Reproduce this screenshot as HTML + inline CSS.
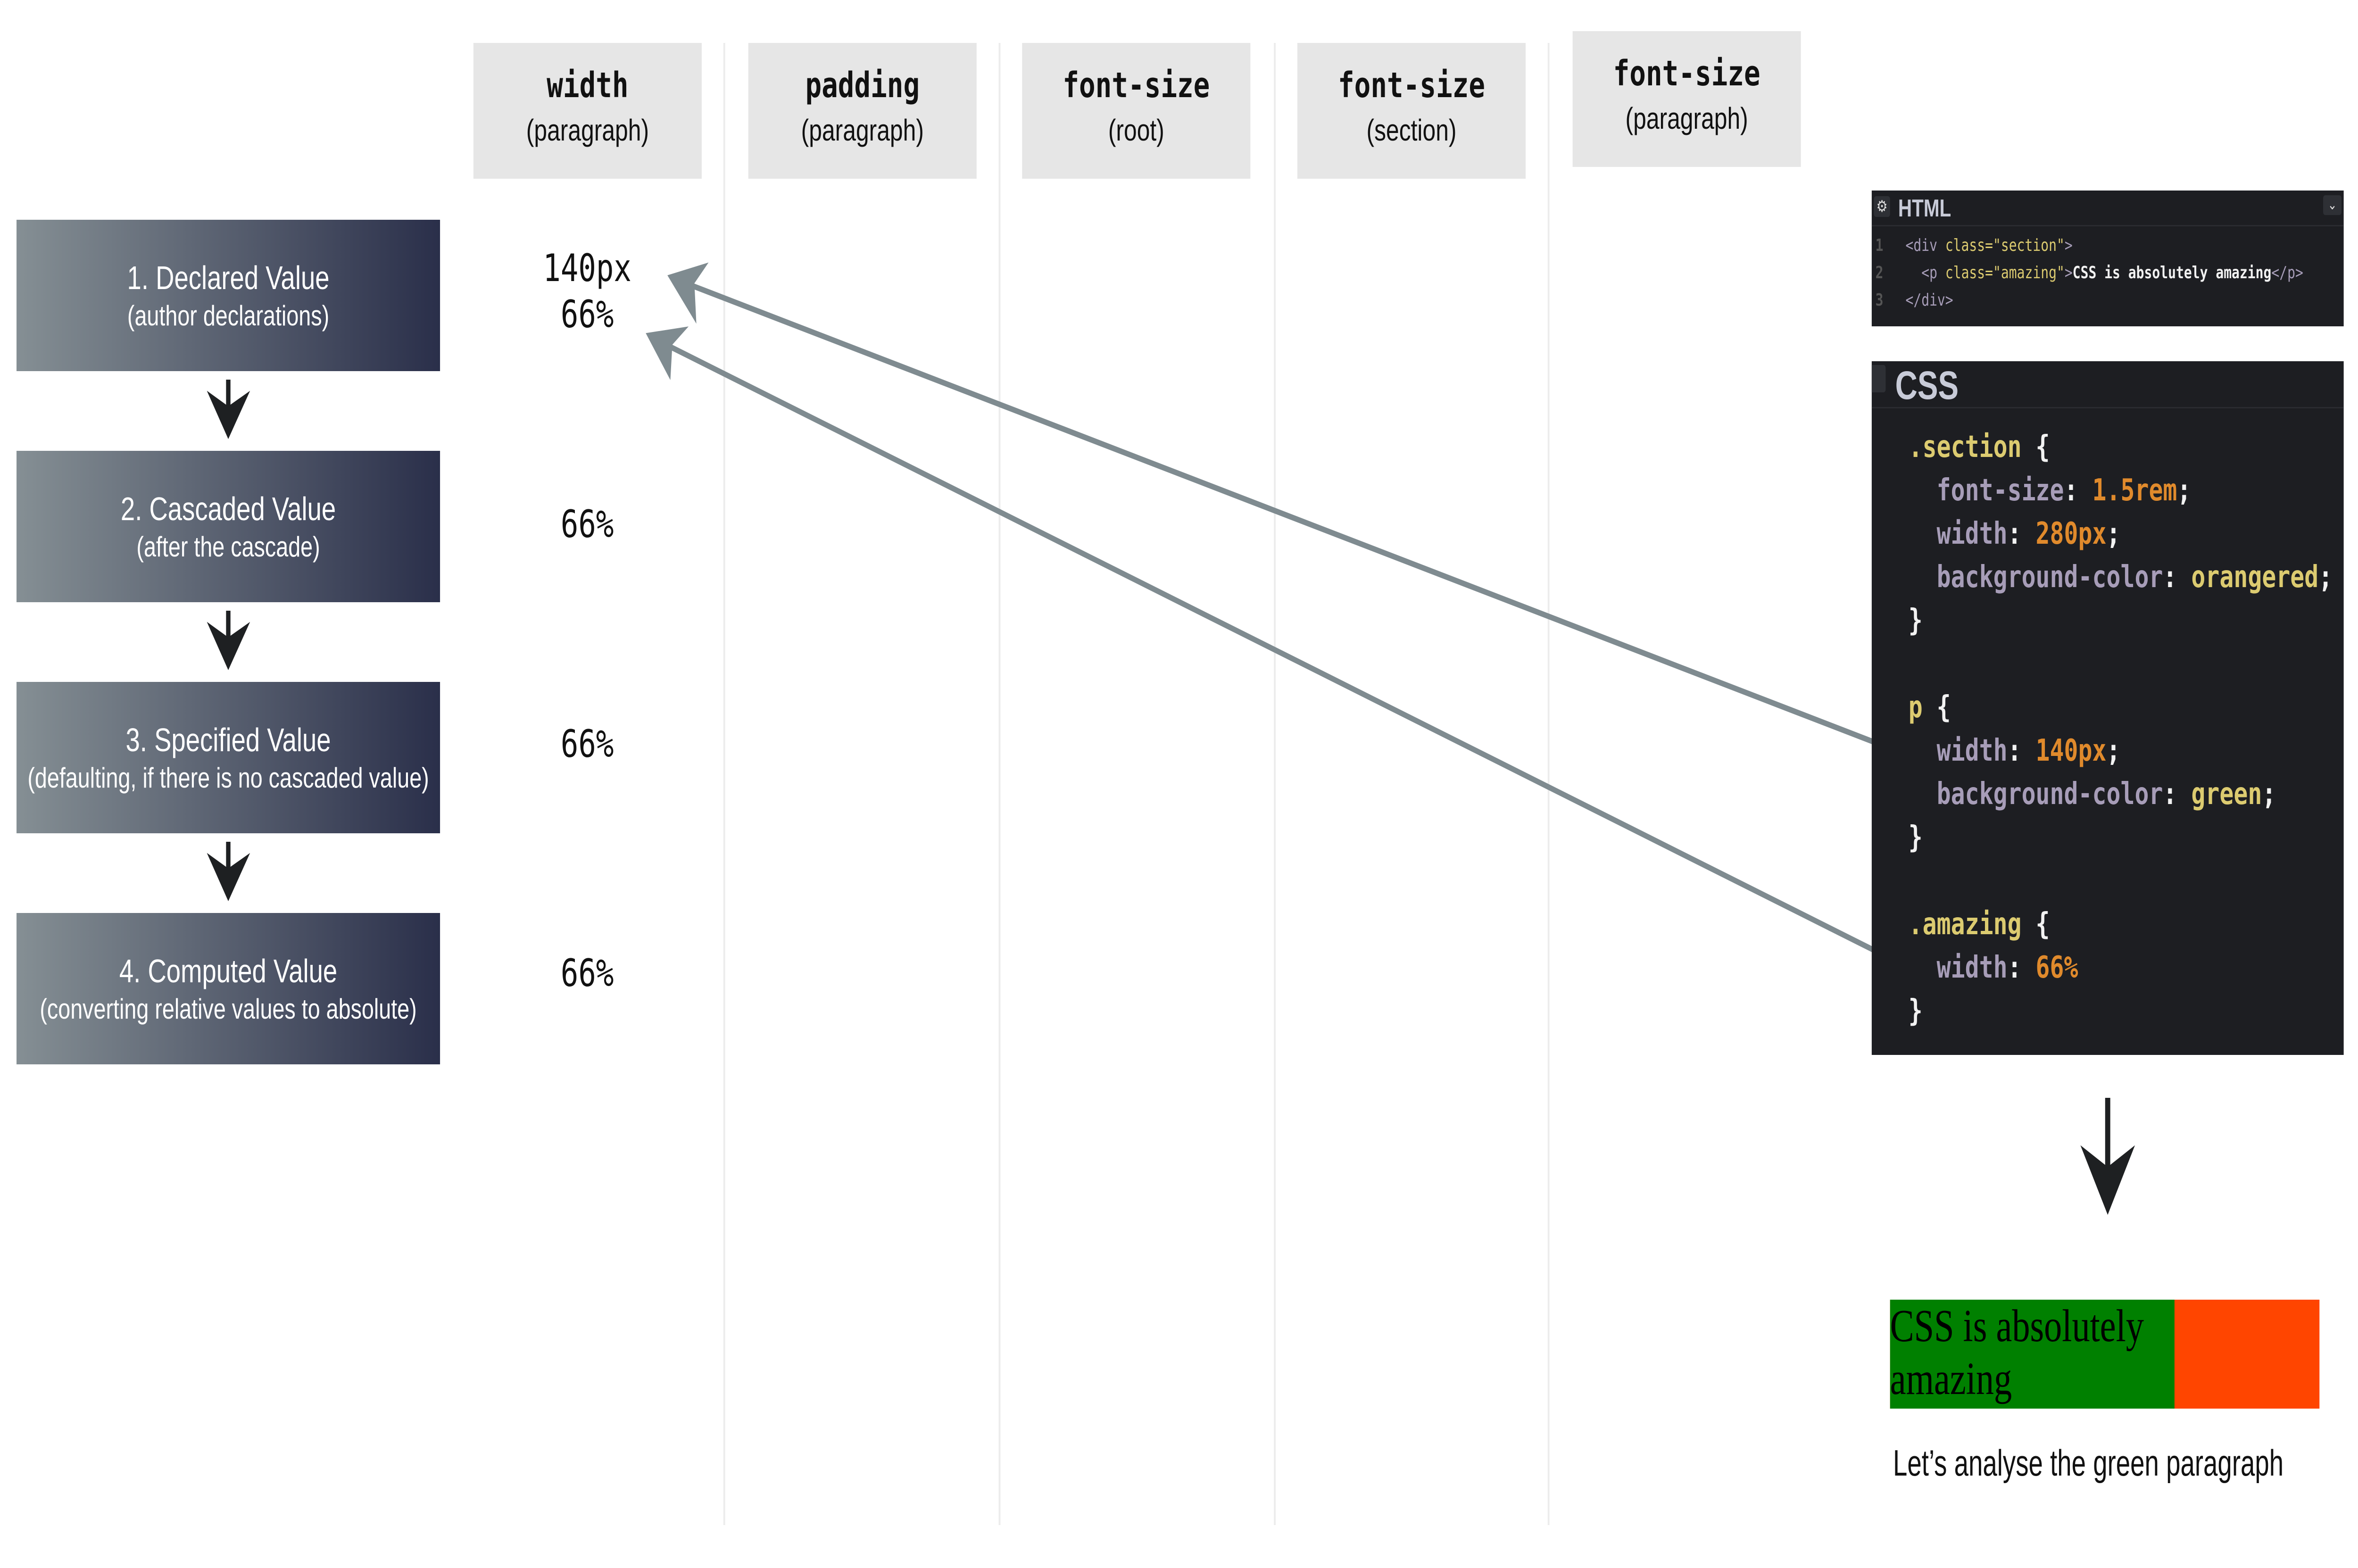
<!DOCTYPE html>
<html><head><meta charset="utf-8">
<style>
*{margin:0;padding:0;box-sizing:border-box}
html,body{width:100%;height:100%;overflow:hidden;background:#fff}
#root{position:absolute;left:0;top:0;width:6425px;height:3325px;background:#fff;overflow:hidden;transform-origin:0 0;font-family:"Liberation Sans",sans-serif}
.abs{position:absolute}
.hdr{position:absolute;background:#e6e6e6;width:622px;height:288px;text-align:center}
.hdr .t{font-family:"DejaVu Sans Mono","Liberation Mono",monospace;font-weight:bold;font-size:74px;margin-top:40px;line-height:100px;color:#111}
.hdr .s{font-family:"Liberation Sans Narrow","Liberation Sans",sans-serif;font-size:64px;line-height:90px;color:#111}
.sep{position:absolute;top:91px;width:5px;height:3143px;background:#ececec}
.step{position:absolute;left:45px;width:1154px;height:321px;background:linear-gradient(to right,#858f94,#2a2f4a);color:#fff;text-align:center;font-family:"Liberation Sans Narrow","Liberation Sans",sans-serif}
.step .a{font-size:70px;margin-top:80px;line-height:86px}
.step .b{font-size:60px;line-height:76px}
.val{position:absolute;left:1400px;width:400px;text-align:center;font-family:"DejaVu Sans Mono","Liberation Mono",monospace;font-size:80px;line-height:98px;color:#111}
.code{font-family:"DejaVu Sans Mono","Liberation Mono",monospace;font-weight:bold;white-space:pre}
.ln{position:absolute;left:5200px;font-size:64px;line-height:92px}
.p{color:#a79db8}.o{color:#e08a2c}.y{color:#dccb70}.w{color:#f2f2f2}
</style></head><body>
<div id="root">
<div class="hdr" style="left:1290px;top:91px"><div class="t">width</div><div class="s">(paragraph)</div></div>
<div class="hdr" style="left:2039px;top:91px"><div class="t">padding</div><div class="s">(paragraph)</div></div>
<div class="hdr" style="left:2785px;top:91px"><div class="t">font-size</div><div class="s">(root)</div></div>
<div class="hdr" style="left:3535px;top:91px"><div class="t">font-size</div><div class="s">(section)</div></div>
<div class="hdr" style="left:4285px;top:66px"><div class="t">font-size</div><div class="s">(paragraph)</div></div>
<div class="sep" style="left:1971px"></div>
<div class="sep" style="left:2721px"></div>
<div class="sep" style="left:3471px"></div>
<div class="sep" style="left:4217px"></div>

<div class="step" style="top:466px"><div class="a">1. Declared Value</div><div class="b">(author declarations)</div></div>
<div class="step" style="top:956px"><div class="a">2. Cascaded Value</div><div class="b">(after the cascade)</div></div>
<div class="step" style="top:1446px"><div class="a">3. Specified Value</div><div class="b">(defaulting, if there is no cascaded value)</div></div>
<div class="step" style="top:1936px"><div class="a">4. Computed Value</div><div class="b">(converting relative values to absolute)</div></div>

<div class="val" style="top:520px">140px<br>66%</div>
<div class="val" style="top:1063px">66%</div>
<div class="val" style="top:1529px">66%</div>
<div class="val" style="top:2015px">66%</div>

<svg class="abs" style="left:0;top:0" width="6425" height="3325">
 <g fill="#1e2022" stroke="#1e2022">
  <g><line x1="622" y1="805" x2="622" y2="880" stroke-width="12"/><path d="M565 830 L622 930 L680 830 L622 862 Z"/></g>
  <g><line x1="622" y1="1295" x2="622" y2="1370" stroke-width="12"/><path d="M565 1320 L622 1420 L680 1320 L622 1352 Z"/></g>
  <g><line x1="622" y1="1785" x2="622" y2="1860" stroke-width="12"/><path d="M565 1810 L622 1910 L680 1810 L622 1842 Z"/></g>
  <g><line x1="5743" y1="2328" x2="5743" y2="2510" stroke-width="14"/><path d="M5670 2430 L5743 2575 L5816 2430 L5743 2475 Z"/></g>
 </g>
 <g stroke="#7f8b90" stroke-width="12" fill="#7f8b90">
  <g><line x1="5191" y1="1599" x2="1860" y2="598"/><path d="M1822 585 L1925 560 L1890 600 L1895 680 Z" stroke-width="4"/></g>
  <g><line x1="5191" y1="2048" x2="1800" y2="725"/><path d="M1763 708 L1870 695 L1830 730 L1825 800 Z" stroke-width="4"/></g>
 </g>
</svg>

<div class="abs" style="left:5100px;top:404px;width:1286px;height:288px;background:#1d1e22;overflow:hidden">
 <div class="abs" style="left:0;top:0;width:1286px;height:76px;border-bottom:3px solid #2a2b30"></div>
 <div class="abs" style="left:6px;top:12px;width:44px;height:44px;background:#2e3035;border-radius:6px;color:#ddd;font-size:34px;text-align:center;line-height:44px">⚙</div>
 <div class="abs" style="left:72px;top:8px;color:#c8cbd8;font-weight:bold;font-size:52px;line-height:60px">HTML</div>
 <div class="abs" style="left:1230px;top:10px;width:50px;height:42px;background:#2e3035;border-radius:6px;color:#ddd;font-size:30px;text-align:center;line-height:42px">⌄</div>
 <div class="abs code" style="left:10px;top:88px;font-size:36px;line-height:58px;color:#555"><span>1</span>
<span>2</span>
<span>3</span></div>
 <div class="abs code" style="left:92px;top:88px;font-size:36px;line-height:58px;font-weight:normal"><span class="p">&lt;div</span> <span class="y">class=</span><span class="y">"section"</span><span class="p">&gt;</span>
  <span class="p">&lt;p</span> <span class="y">class=</span><span class="y">"amazing"</span><span class="p">&gt;</span><span class="w" style="font-weight:bold">CSS is absolutely amazing</span><span class="p">&lt;/p&gt;</span>
<span class="p">&lt;/div&gt;</span></div>
</div>

<div class="abs" style="left:5100px;top:766px;width:1286px;height:1471px;background:#1d1e22;overflow:hidden">
 <div class="abs" style="left:0;top:0;width:1286px;height:100px;border-bottom:3px solid #2a2b30"></div>
 <div class="abs" style="left:-10px;top:8px;width:48px;height:58px;background:#2e3035;border-radius:6px"></div>
 <div class="abs" style="left:64px;top:6px;color:#c8cbd8;font-weight:bold;font-size:84px;line-height:90px">CSS</div>
</div>
<div class="abs code" style="left:0;top:0">
<div class="ln" style="top:902px"><span class="y">.section</span> <span class="w">{</span></div>
<div class="ln" style="top:994px">  <span class="p">font-size</span><span class="w">:</span> <span class="o">1.5rem</span><span class="w">;</span></div>
<div class="ln" style="top:1086px">  <span class="p">width</span><span class="w">:</span> <span class="o">280px</span><span class="w">;</span></div>
<div class="ln" style="top:1178px">  <span class="p">background-color</span><span class="w">:</span> <span class="y">orangered</span><span class="w">;</span></div>
<div class="ln" style="top:1270px"><span class="w">}</span></div>
<div class="ln" style="top:1454px"><span class="y">p</span> <span class="w">{</span></div>
<div class="ln" style="top:1546px">  <span class="p">width</span><span class="w">:</span> <span class="o">140px</span><span class="w">;</span></div>
<div class="ln" style="top:1638px">  <span class="p">background-color</span><span class="w">:</span> <span class="y">green</span><span class="w">;</span></div>
<div class="ln" style="top:1730px"><span class="w">}</span></div>
<div class="ln" style="top:1914px"><span class="y">.amazing</span> <span class="w">{</span></div>
<div class="ln" style="top:2006px">  <span class="p">width</span><span class="w">:</span> <span class="o">66%</span></div>
<div class="ln" style="top:2098px"><span class="w">}</span></div>
</div>

<div class="abs" style="left:5150px;top:2756px;width:1170px;height:231px;background:#ff4500"></div>
<div class="abs" style="left:5150px;top:2756px;width:775px;height:231px;background:#008000;font-family:'Liberation Serif',serif;font-size:98px;line-height:112px;color:#000">CSS is absolutely amazing</div>
<div class="abs" style="left:5158px;top:3055px;font-family:'Liberation Sans',sans-serif;font-size:78px;line-height:94px;color:#111;white-space:nowrap;transform:scaleX(0.9);transform-origin:0 0">Let’s analyse the green paragraph</div>
</div>
<script>
(function(){
  var r=document.getElementById('root');
  var sx=Math.min(window.innerWidth/6425,1);
  var sy=Math.min(window.innerHeight/3325,1);
  if(sx>0 && sy>0 && (sx<1 || sy<1)){ r.style.transform='scale('+sx+','+sy+')'; }
})();
</script>
</body></html>
